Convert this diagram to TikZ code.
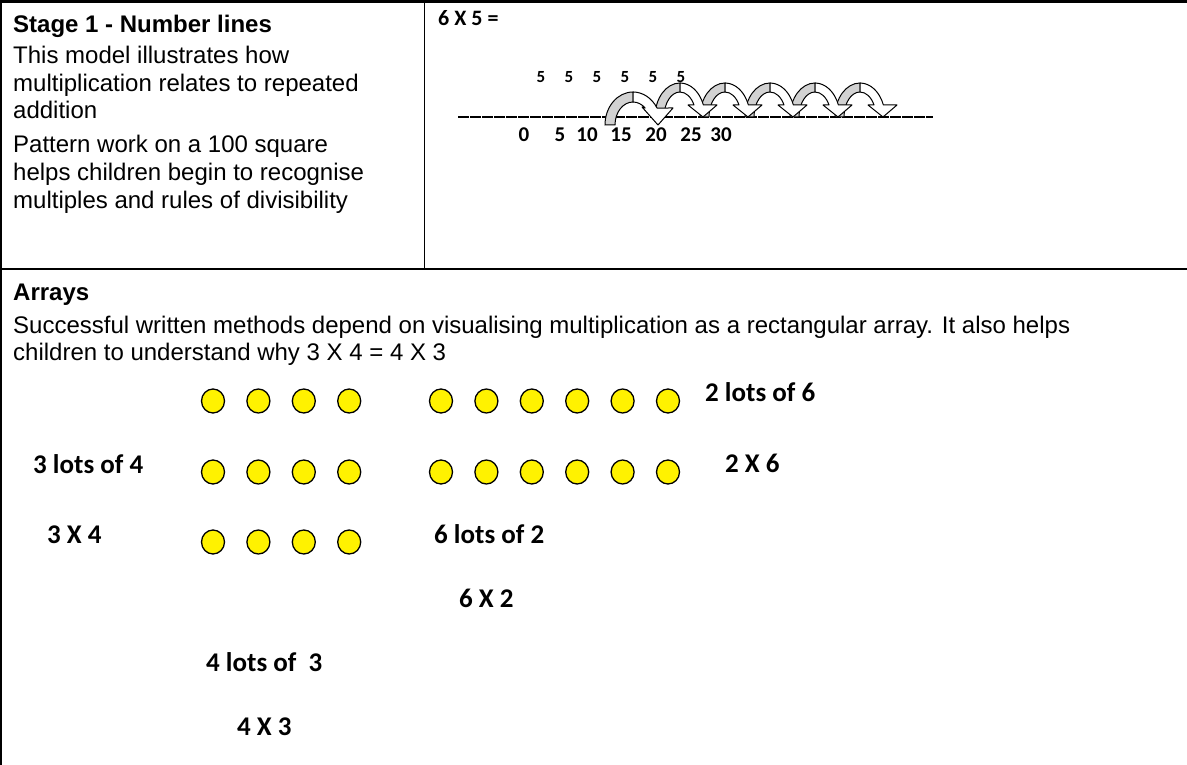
\documentclass[tikz,border=0pt]{standalone}
\usepackage{fontspec}
\setmainfont{Liberation Sans}
\newfontfamily\calibri{Carlito}
\tikzset{
  txt/.style={anchor=base west, inner sep=0pt, font=\fontsize{24}{27.6}\selectfont},
  head/.style={txt, font=\bfseries\fontsize{24}{27.6}\selectfont},
  lbl/.style={anchor=base west, inner sep=0pt, font=\calibri\bfseries\fontsize{27}{30}\selectfont},
  num/.style={anchor=base, inner sep=0pt, font=\calibri\bfseries\fontsize{21}{24}\selectfont},
  dot/.style={draw=black, line width=1.3pt, fill=yellow},
  backface/.style={draw=black, line width=1pt, fill=gray!35},
  frontface/.style={draw=black, line width=1pt, fill=white, line join=round}
}
\begin{document}
\begin{tikzpicture}[x=1pt, y=-1pt]
  \useasboundingbox (0,0) rectangle (1187,765);

  % table rules
  \draw[line width=3pt] (0,1.5) -- (1187,1.5);
  \draw[line width=2pt] (1,0) -- (1,765);
  \draw[line width=1.5pt] (0,269) -- (1187,269);
  \draw[line width=1.5pt] (424.5,0) -- (424.5,269);

  % Stage 1 text
  \node[head] (stage) at (13,33) {Stage 1 - Number lines};
  \foreach \ty/\tline [count=\i] in {64/This model illustrates how,
      91.5/multiplication relates to repeated, 119/addition,
      153/Pattern work on a 100 square, 181/helps children begin to recognise,
      208.5/multiples and rules of divisibility}
    \node[txt] (line\i) at (13,\ty) {\tline};

  % number line
  \node[num, anchor=base west, font=\calibri\bfseries\fontsize{22}{24}\selectfont] (sum) at (438,26) {6 X 5 =};
  \foreach \i in {0,...,5}
    \node[num, font=\calibri\bfseries\fontsize{17}{20}\selectfont] (five\i) at (541+28*\i,83) {5};
  \draw[line width=1.5pt, dash pattern=on 11pt off 1pt] (458,117) coordinate (nlA) -- (933,117) coordinate (nlB);
  \foreach \x/\n in {524/0, 560/5, 587/10, 621/15, 656/20, 691/25, 721/30}
    \node[num] (tick\n) at (\x,142) {\n};

  % jumps: back faces
  \begin{scope}[shift={(633,125)}, yscale=-1]
    \filldraw[backface] (-28,0) arc[start angle=180, end angle=90, x radius=28, y radius=33]
      -- (0,23) arc[start angle=90, end angle=180, x radius=18, y radius=23] -- cycle;
  \end{scope}
  \foreach \c in {680,725,770,815,860} {
    \begin{scope}[shift={(\c,117)}, yscale=-1]
      \filldraw[backface] (-25,0) arc[start angle=180, end angle=90, x radius=25, y radius=34]
        -- (0,25) arc[start angle=90, end angle=180, x radius=16, y radius=25] -- cycle;
    \end{scope}
  }

  % jumps: fronts with heads
  \begin{scope}[shift={(633,125)}, yscale=-1]
    \filldraw[frontface] (0,33) arc[start angle=90, end angle=31, x radius=28, y radius=33]
      -- (40,17) -- (25,0) -- (9,18) -- (12.12,17)
      arc[start angle=47.66, end angle=90, x radius=18, y radius=23] -- cycle;
  \end{scope}
  \foreach \c in {680,725,770,815,860} {
    \begin{scope}[shift={(\c,117)}, yscale=-1]
      \filldraw[frontface] (0,34) arc[start angle=90, end angle=20.7, x radius=25, y radius=34]
        -- (37,12) -- (23,0) -- (8,12) -- (14.03,12)
        arc[start angle=28.7, end angle=90, x radius=16, y radius=25] -- cycle;
    \end{scope}
  }

  % Arrays text
  \node[head] (arrays) at (13,300) {Arrays};
  \node[txt] (succ1) at (13,333) {Successful written methods depend on visualising multiplication as a rectangular array. It also helps};
  \node[txt] (succ2) at (13,360) {children to understand why 3 X 4 = 4 X 3};

  % dots
  \foreach \y in {401, 472, 542}
    \foreach \i in {0,...,3}
      \draw[dot] (213+45.4*\i,\y) ellipse [x radius=11.5, y radius=12];
  \foreach \y in {401, 472}
    \foreach \i in {0,...,5}
      \draw[dot] (441+45.4*\i,\y) ellipse [x radius=11.5, y radius=12];

  % labels
  \node[lbl] (twolots) at (705,401) {2 lots of 6};
  \node[lbl] (threelots) at (33,473) {3 lots of 4};
  \node[lbl] (twoxsix) at (725,472) {2 X 6};
  \node[lbl] (threexfour) at (47,543) {3 X 4};
  \node[lbl] (sixlots) at (434,543) {6 lots of 2};
  \node[lbl] (sixxtwo) at (459,607) {6 X 2};
  \node[lbl] (fourlots) at (206,671) {4 lots of \ 3};
  \node[lbl] (fourxthree) at (237,735) {4 X 3};
\end{tikzpicture}
\end{document}
